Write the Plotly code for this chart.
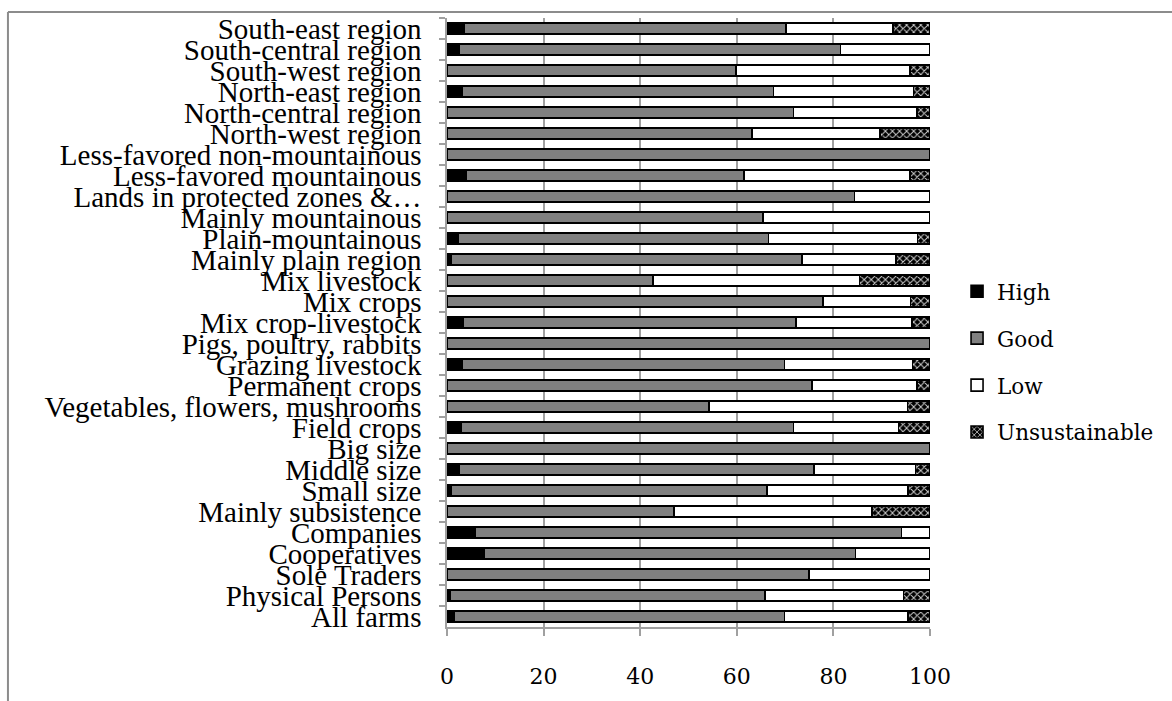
import plotly.graph_objects as go

# Farm groups, listed top to bottom as shown on the chart
categories = [
    "South-east region", "South-central region", "South-west region",
    "North-east region", "North-central region", "North-west region",
    "Less-favored non-mountainous", "Less-favored mountainous",
    "Lands in protected zones &\u2026", "Mainly mountainous", "Plain-mountainous",
    "Mainly plain region", "Mix livestock", "Mix crops", "Mix crop-livestock",
    "Pigs, poultry, rabbits", "Grazing livestock", "Permanent crops",
    "Vegetables, flowers, mushrooms", "Field crops", "Big size", "Middle size",
    "Small size", "Mainly subsistence", "Companies", "Cooperatives",
    "Sole Traders", "Physical Persons", "All farms",
]

# Share of farms (%) in each sustainability class
high = [3.6, 2.5, 0, 3.2, 0, 0, 0, 3.9, 0, 0, 2.3, 0.9, 0, 0, 3.3,
        0, 3.2, 0, 0, 2.9, 0, 2.6, 0.9, 0, 5.8, 7.6, 0, 0.6, 1.5]
good = [66.6, 79.0, 59.8, 64.4, 71.7, 63.1, 100, 57.6, 84.4, 65.4, 64.3, 72.6, 42.7, 77.8, 69.0,
        100, 66.7, 75.6, 54.3, 68.8, 100, 73.4, 65.3, 47.0, 88.3, 77.0, 75.0, 65.2, 68.4]
low = [22.2, 18.5, 36.0, 29.0, 25.6, 26.6, 0, 34.4, 15.6, 34.6, 30.8, 19.5, 42.7, 18.2, 24.0,
       0, 26.5, 21.7, 41.0, 21.8, 0, 21.0, 29.3, 41.0, 5.9, 15.4, 25.0, 28.7, 25.6]
unsustainable = [7.6, 0, 4.2, 3.4, 2.7, 10.3, 0, 4.1, 0, 0, 2.6, 7.0, 14.6, 4.0, 3.7,
                 0, 3.6, 2.7, 4.7, 6.5, 0, 3.0, 4.5, 12.0, 0, 0, 0, 5.5, 4.5]

x_ticks = [0, 20, 40, 60, 80, 100]

series = [
    ("High", high, dict(color="#000000")),
    ("Good", good, dict(color="#808080")),
    ("Low", low, dict(color="#ffffff")),
    ("Unsustainable", unsustainable,
     dict(color="#000000",
          pattern=dict(shape="x", fgcolor="#d0d0d0", bgcolor="#000000",
                       size=5, solidity=0.35, fillmode="replace"))),
]

fig = go.Figure()
for i, (name, vals, mk) in enumerate(series):
    fig.add_trace(go.Bar(
        name=name, y=categories, x=vals, orientation="h",
        marker=dict(**mk, line=dict(color="#000000", width=1.6)),
        legendgroup=f"g{i}",
    ))

grid = "#a0a0a0"
fig.update_layout(
    width=1172, height=701,
    barmode="stack", bargap=0.48,
    paper_bgcolor="white", plot_bgcolor="white",
    margin=dict(l=447, r=242, t=18, b=62),
    font=dict(family="DejaVu Serif", color="#000000", size=20),
    showlegend=True,
    legend=dict(
        x=1.056, y=0.585, xanchor="left", yanchor="top",
        traceorder="grouped", tracegroupgap=16,
        font=dict(family="DejaVu Serif", size=21.5, color="#000000"),
        bgcolor="rgba(0,0,0,0)", itemwidth=30,
    ),
    xaxis=dict(
        range=[0, 100], tickvals=x_ticks, showgrid=True, gridcolor=grid, gridwidth=1.5,
        zeroline=False, showline=True, linecolor=grid, linewidth=1.5,
        ticks="outside", ticklen=7, tickcolor=grid, tickwidth=1.5,
        ticklabelstandoff=22,
        tickfont=dict(family="DejaVu Serif", size=22, color="#000000"),
    ),
    yaxis=dict(
        autorange="reversed", showgrid=False, zeroline=False,
        tickmode="linear", tick0=0, dtick=1,
        showline=True, linecolor=grid, linewidth=1.5,
        ticks="outside", ticklen=6, tickcolor=grid, tickwidth=1.5,
        tickson="boundaries", ticklabelstandoff=18,
        tickfont=dict(family="Liberation Serif", size=29, color="#000000"),
    ),
    shapes=[
        dict(type="line", xref="paper", yref="paper",
             x0=-0.909, x1=1.6, y0=1.0097, y1=1.0097,
             line=dict(color="#8c8c8c", width=2)),
        dict(type="line", xref="paper", yref="paper",
             x0=-0.909, x1=-0.909, y0=1.0097, y1=-0.2,
             line=dict(color="#8c8c8c", width=2)),
    ],
)

fig.write_html("out.html")
